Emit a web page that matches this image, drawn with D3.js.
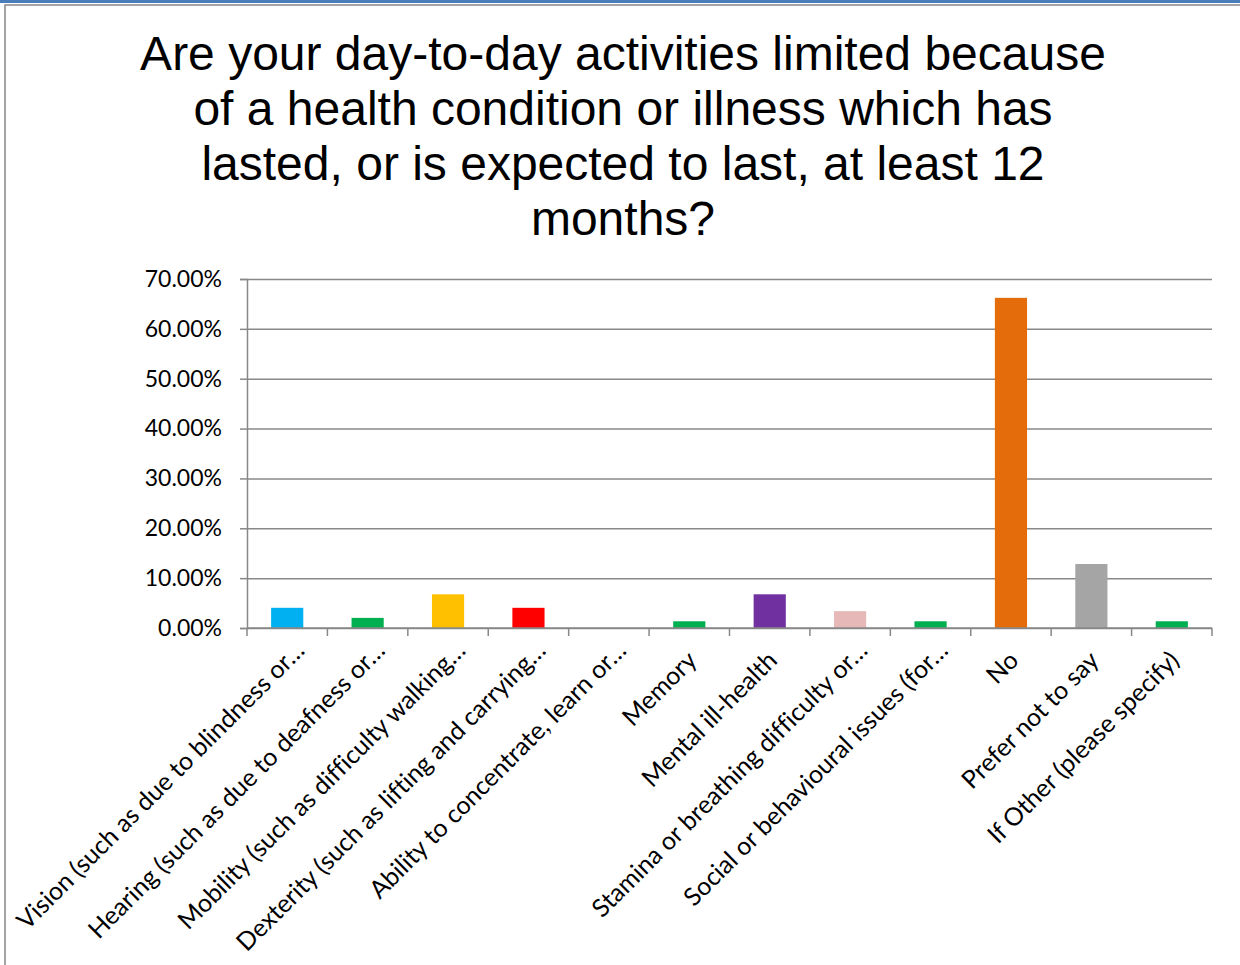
<!DOCTYPE html>
<html>
<head>
<meta charset="utf-8">
<script src="https://cdn.jsdelivr.net/npm/d3@7"></script>
<style>
  body { margin: 0; background: #ffffff; }
  svg { display: block; }
  text { font-variant-ligatures: none; }
</style>
</head>
<body>
<svg id="chart" width="1240" height="965"></svg>
<script>
// Chart title, one entry per line
const titleLines = [
  "Are your day-to-day activities limited because",
  "of a health condition or illness which has",
  "lasted, or is expected to last, at least 12",
  "months?"
];

// Category labels as shown on the axis (long ones are truncated)
const categories = [
  "Vision (such as due to blindness or\u2026",
  "Hearing (such as due to deafness or\u2026",
  "Mobility (such as difficulty walking\u2026",
  "Dexterity (such as lifting and carrying\u2026",
  "Ability to concentrate, learn or\u2026",
  "Memory",
  "Mental ill-health",
  "Stamina or breathing difficulty or\u2026",
  "Social or behavioural issues (for\u2026",
  "No",
  "Prefer not to say",
  "If Other (please specify)"
];

// Share of respondents, percent
const values = [4.05, 2.03, 6.76, 4.05, 0, 1.35, 6.76, 3.38, 1.35, 66.22, 12.84, 1.35];

// Fill for each bar
const barColors = [
  "#00B0F0", "#00B050", "#FFC000", "#FF0000", "#00B050", "#00B050",
  "#7030A0", "#E6B9B8", "#00B050", "#E46C0A", "#A5A5A5", "#00B050"
];

// Value axis ticks, percent
const yTicks = [0, 10, 20, 30, 40, 50, 60, 70];

const svg = d3.select("#chart");
const W = 1240, H = 965;
const plot = { left: 247, right: 1212, top: 279, bottom: 628 };
const axisColor = "#888888";
const labelFont = "Lato, 'Open Sans', sans-serif";

// Frame: blue strip along the top, grey chart border
svg.append("rect").attr("x", 0).attr("y", 0).attr("width", W).attr("height", 3).attr("fill", "#4a7ebb");
svg.append("rect")
  .attr("x", 5).attr("y", 5).attr("width", W + 10).attr("height", H + 10)
  .attr("fill", "none").attr("stroke", axisColor).attr("stroke-width", 1.5);

// Title
svg.append("text")
  .attr("text-anchor", "middle")
  .attr("font-family", "'Liberation Sans', Arial, sans-serif")
  .attr("font-size", 48)
  .attr("fill", "#000")
  .selectAll("tspan")
  .data(titleLines)
  .join("tspan")
  .attr("x", 623)
  .attr("y", (d, i) => 70 + i * 55)
  .text(d => d);

// Scales
const x = d3.scaleBand()
  .domain(categories)
  .range([plot.left, plot.right])
  .paddingInner(0.6)
  .paddingOuter(0.3);
const step = x.step();

const y = d3.scaleLinear().domain([0, 70]).range([plot.bottom, plot.top]);

// Horizontal gridlines
const grid = svg.append("g")
  .attr("transform", `translate(${plot.left},0)`)
  .call(d3.axisLeft(y).tickValues(yTicks).tickSize(-(plot.right - plot.left)).tickFormat(""));
grid.select(".domain").remove();
grid.selectAll("line").attr("stroke", axisColor).attr("stroke-width", 1.5);

// Value axis with percent labels
const yAxis = svg.append("g")
  .attr("transform", `translate(${plot.left},0)`)
  .call(d3.axisLeft(y).tickValues(yTicks).tickSize(7).tickPadding(18)
    .tickFormat(d => d.toFixed(2) + "%"));
yAxis.select(".domain").attr("stroke", axisColor).attr("stroke-width", 1.5);
yAxis.selectAll(".tick line").attr("stroke", axisColor).attr("stroke-width", 1.5);
yAxis.selectAll(".tick text")
  .attr("font-family", labelFont)
  .attr("font-size", 23)
  .attr("fill", "#000");

// Bars
svg.append("g")
  .selectAll("rect")
  .data(categories)
  .join("rect")
  .attr("x", d => x(d))
  .attr("width", x.bandwidth())
  .attr("y", (d, i) => y(values[i]))
  .attr("height", (d, i) => y(0) - y(values[i]))
  .attr("fill", (d, i) => barColors[i]);

// Category axis: baseline and tick marks at band boundaries
const xAxis = svg.append("g");
xAxis.append("line")
  .attr("x1", plot.left).attr("x2", plot.right)
  .attr("y1", y(0)).attr("y2", y(0))
  .attr("stroke", axisColor).attr("stroke-width", 1.5);
const boundaries = d3.range(categories.length + 1).map(i => plot.left + i * step);
xAxis.selectAll("line.tick")
  .data(boundaries)
  .join("line")
  .attr("class", "tick")
  .attr("x1", d => d).attr("x2", d => d)
  .attr("y1", y(0)).attr("y2", y(0) + 8)
  .attr("stroke", axisColor).attr("stroke-width", 1.5);

// Rotated category labels; truncated ones sit a little further along
xAxis.selectAll("text")
  .data(categories)
  .join("text")
  .attr("transform", d => `translate(${x(d) + x.bandwidth() / 2 + 9},${y(0) + 34}) rotate(-45)`)
  .attr("dx", d => d.endsWith("\u2026") ? 14 : 0)
  .attr("text-anchor", "end")
  .attr("font-family", labelFont)
  .attr("font-size", 25)
  .attr("fill", "#000")
  .text(d => d);
</script>
</body>
</html>
